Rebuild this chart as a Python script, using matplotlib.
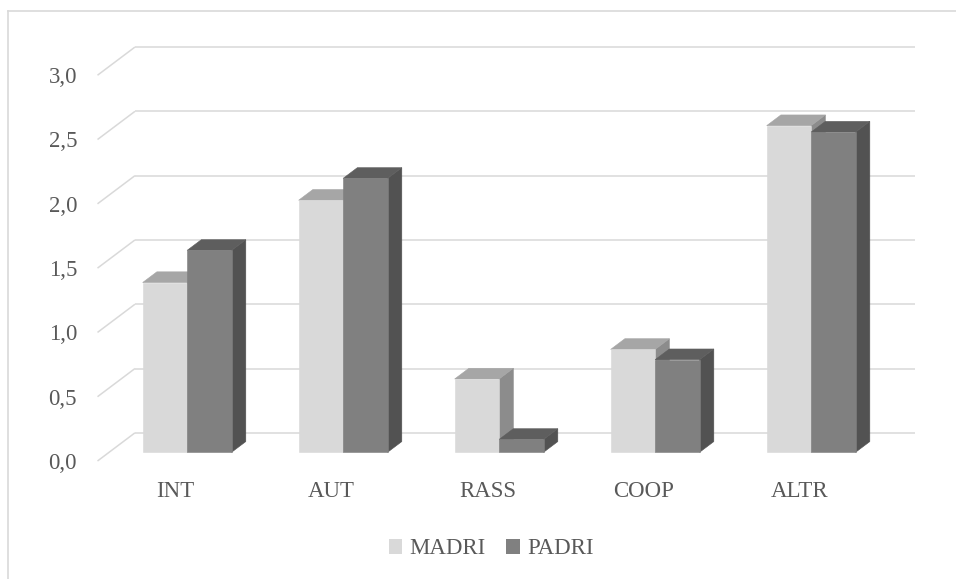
import matplotlib.pyplot as plt
from matplotlib.patches import Polygon, Patch
from matplotlib.lines import Line2D

categories = ["INT", "AUT", "RASS", "COOP", "ALTR"]
madri = [1.32, 1.96, 0.57, 0.80, 2.54]
padri = [1.57, 2.13, 0.10, 0.72, 2.49]
series_names = ["MADRI", "PADRI"]
y_ticks = [0.0, 0.5, 1.0, 1.5, 2.0, 2.5, 3.0]

plt.rcParams["font.family"] = ["Liberation Serif", "DejaVu Serif"]
TEXT = "#595959"
GRID = "#d9d9d9"
FS = 16.5

# oblique projection: going from front (d=0) to back (d=1) of the floor
DEPTH_X = 0.24   # in category units
DEPTH_Y = 0.219  # in value units

# bar geometry inside one category slot
BAR_W = 0.285
D0, D1 = 0.31, 0.69

face_colors = {
    "MADRI": ("#d9d9d9", "#a6a6a6", "#8c8c8c"),   # front, top, side
    "PADRI": ("#808080", "#5e5e5e", "#525252"),
}


def proj(u, v, d):
    return (u + d * DEPTH_X, v + d * DEPTH_Y)


fig = plt.figure(figsize=(9.56, 5.79), dpi=100)
ax = fig.add_axes([0, 0, 1, 1])
ax.set_xlim(-0.625, 5.503)
ax.set_ylim(-0.9176, 3.585)
ax.axis("off")

# back wall gridlines and the diagonal lines on the left wall
for t in y_ticks:
    x0, y0 = proj(0, t, 1)
    x1, y1 = proj(len(categories), t, 1)
    ax.plot([x0, x1], [y0, y1], color=GRID, lw=1.1, zorder=1,
            solid_capstyle="butt")
    fx, fy = proj(0, t, 0)
    ax.plot([fx, x0], [fy, y0], color=GRID, lw=1.1, zorder=1,
            solid_capstyle="butt")
    ax.text(-0.131, t - 0.018, "{:.1f}".format(t).replace(".", ","),
            ha="right", va="center", fontsize=FS, color=TEXT)


def draw_bar(left, h, cols, z):
    front, top, side = cols
    r = left + BAR_W
    side_pts = [proj(r, 0, D0), proj(r, 0, D1), proj(r, h, D1), proj(r, h, D0)]
    top_pts = [proj(left, h, D0), proj(r, h, D0), proj(r, h, D1), proj(left, h, D1)]
    front_pts = [proj(left, 0, D0), proj(r, 0, D0), proj(r, h, D0), proj(left, h, D0)]
    for pts, c in ((side_pts, side), (top_pts, top), (front_pts, front)):
        ax.add_patch(Polygon(pts, closed=True, facecolor=c, edgecolor=c,
                             lw=0.4, zorder=z))


z = 2
for i, cat in enumerate(categories):
    center = i + 0.5
    draw_bar(center - BAR_W, madri[i], face_colors["MADRI"], z)
    z += 1
    draw_bar(center, padri[i], face_colors["PADRI"], z)
    z += 1
    ax.text(center, -0.241, cat, ha="center", va="center",
            fontsize=FS, color=TEXT)

# outer chart border (runs off the right and bottom edges)
W, H = 956, 579
fig.add_artist(Line2D([7.5 / W, 7.5 / W], [(H - 11) / H, 0], color=GRID, lw=1.2))
fig.add_artist(Line2D([7.5 / W, 1], [(H - 11) / H, (H - 11) / H], color=GRID, lw=1.2))

handles = [Patch(facecolor=face_colors[n][0], edgecolor="none") for n in series_names]
leg = fig.legend(handles, series_names, loc="center",
                 bbox_to_anchor=(491 / W, (H - 549) / H), ncol=2, frameon=False,
                 fontsize=FS, handlelength=0.6, handleheight=0.6,
                 handletextpad=0.3, columnspacing=0.9, borderpad=0)
for t in leg.get_texts():
    t.set_color(TEXT)

fig.savefig("out.png", dpi=100)
